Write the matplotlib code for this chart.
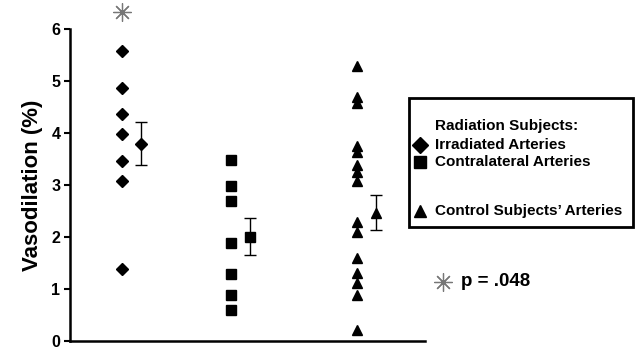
import numpy as np
import matplotlib
matplotlib.use("Agg")
import matplotlib.pyplot as plt
from matplotlib.lines import Line2D
from matplotlib.patches import Rectangle

plt.rcParams['font.family'] = ['Liberation Sans', 'DejaVu Sans']
plt.rcParams['font.weight'] = 'bold'

# individual values (% vasodilation)
irradiated = [5.59, 4.88, 4.37, 3.98, 3.47, 3.08, 1.39]
contralateral = [3.48, 2.98, 2.69, 1.88, 1.29, 0.89, 0.59]
control = [5.29, 4.70, 4.59, 3.76, 3.63, 3.39, 3.26, 3.08,
           2.29, 2.10, 1.59, 1.30, 1.11, 0.88, 0.21]

# group means and standard errors
means = [3.80, 2.01, 2.47]
sems = [0.41, 0.35, 0.34]

markers = ['D', 's', '^']
sizes = [6, 6.5, 7]
group_x = [0.95, 2.95, 5.25]
mean_off = 0.35
star_value = 6.34

fig = plt.figure(figsize=(6.43, 3.55), dpi=100)
ax = fig.add_axes([0.109, 0.040, 0.552, 0.877])

for vals, m, s, gx, mu, se in zip([irradiated, contralateral, control],
                                   markers, sizes, group_x, means, sems):
    ax.plot([gx] * len(vals), vals, linestyle='none', marker=m,
            markersize=s, color='black', clip_on=False)
    ax.errorbar(gx + mean_off, mu, yerr=se, marker=m, markersize=s,
                color='black', ecolor='black', elinewidth=1,
                capsize=4, capthick=1, clip_on=False)

# significance star above irradiated group
ax.plot(group_x[0], star_value, linestyle='none', marker=(8, 2, 0),
        markersize=13, color='#777777', markeredgewidth=0.9, clip_on=False)

ax.set_xlim(0, 6.5)
ax.set_ylim(0, 6)
ax.set_yticks(range(0, 7))
ax.set_xticks([])
ax.tick_params(axis='y', labelsize=11.5, width=1.5, length=4, pad=3)
for lab in ax.get_yticklabels():
    lab.set_fontweight('bold')
ax.spines['top'].set_visible(False)
ax.spines['right'].set_visible(False)
ax.spines['left'].set_linewidth(1.8)
ax.spines['bottom'].set_linewidth(1.8)
ax.set_ylabel('Vasodilation (%)', fontsize=16, fontweight='bold', labelpad=6)

# legend box drawn by hand in figure pixels
W, H = 643, 355
def fx(px):
    return px / W
def fy(py):
    return 1 - py / H

fig.add_artist(Rectangle((fx(409), fy(227)), fx(633) - fx(409), fy(98) - fy(227),
                         transform=fig.transFigure, fill=False,
                         edgecolor='black', linewidth=2))
legend_rows = [("Radiation Subjects:", None, 126),
               ("Irradiated Arteries", 'D', 145),
               ("Contralateral Arteries", 's', 162),
               ("Control Subjects\u2019 Arteries", '^', 211)]
for text, m, py in legend_rows:
    fig.text(fx(435), fy(py), text, fontsize=11, fontweight='bold',
             va='center', ha='left')
    if m is not None:
        fig.add_artist(Line2D([fx(420)], [fy(py)], marker=m, color='black',
                              markersize=9 if m != 'D' else 8,
                              linestyle='none', transform=fig.transFigure))

fig.add_artist(Line2D([fx(443)], [fy(282)], marker=(8, 2, 0), color='#777777',
                      markersize=13, markeredgewidth=0.9, linestyle='none',
                      transform=fig.transFigure))
fig.text(fx(461), fy(282), "p = .048", fontsize=13.5, fontweight='bold',
         va='center', ha='left')

fig.savefig('out.png', dpi=100)
